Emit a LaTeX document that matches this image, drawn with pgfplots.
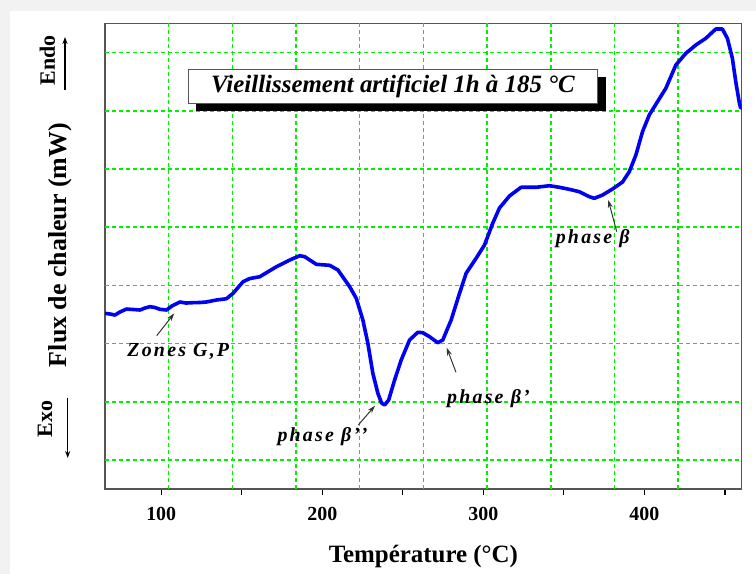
\documentclass[border=0pt]{standalone}
\usepackage{fontspec}
\setmainfont{Liberation Serif}
\usepackage{pgfplots}
\pgfplotsset{compat=1.18}
\usetikzlibrary{arrows.meta}
\definecolor{gridgreen}{RGB}{0,240,0}
\definecolor{curveblue}{RGB}{0,0,245}
\definecolor{framegray}{RGB}{85,85,85}
\begin{document}
\begin{tikzpicture}[x=1bp,y=1bp]
\fill[black!5] (0,0) rectangle (756,574);
\fill[white] (10,0) rectangle (756,563);
\useasboundingbox (0,0) rectangle (756,574);
\begin{axis}[
  at={(105bp,85bp)}, anchor=south west,
  scale only axis, width=636.7bp, height=465.5bp,
  xmin=65.1, xmax=460.4, ymin=0, ymax=8,
  axis line style={draw=framegray, line width=1.4bp},
  xtick={100,200,300,400},
  minor xtick={150,250,350,450},
  xtick pos=bottom, tick align=outside,
  major tick length=6bp, minor tick length=6bp,
  every tick/.style={black, line width=1.2bp},
  ytick=\empty,
  /pgf/number format/assume math mode=true,
  xticklabel style={font=\bfseries\fontsize{20}{24}\selectfont, yshift=-9bp},
  xlabel={Température (°C)},
  xlabel style={at={(axis description cs:0.5,0)}, anchor=center, yshift=-67bp, font=\bfseries\fontsize{25}{29}\selectfont},
  ylabel={Flux de chaleur (mW)},
  ylabel style={at={(axis description cs:-0.0707,0.524)}, anchor=center, font=\bfseries\fontsize{26}{30}\selectfont},
]
% grid (10 x 8 divisions, offset from the ticks)
\pgfplotsinvokeforeach{104.63,144.16,183.69,223.22,262.75,302.28,341.81,381.34,420.87}{
  \draw[gridgreen, line width=1.6bp, dash pattern=on 4bp off 3bp] (axis cs:#1,0) -- (axis cs:#1,8);
}
\pgfplotsinvokeforeach{0.5,1.5,2.5,3.5,4.5,5.5,6.5,7.5}{
  \draw[gridgreen, line width=1.6bp, dash pattern=on 4bp off 3bp] (axis cs:65.1,#1) -- (axis cs:460.4,#1);
}
\addplot[curveblue, line width=3.6bp, line join=round, line cap=round] coordinates {
(65.1,3.019) (68.2,3.007) (71.3,2.990) (74.4,3.042) (78.5,3.093) (82.5,3.085)
(86.8,3.076) (89.9,3.110) (93.0,3.133) (96.1,3.119) (99.2,3.088) (103.3,3.076)
(106.6,3.145) (111.6,3.214) (115.3,3.196) (119.8,3.202) (124.0,3.205) (128.1,3.214)
(134.3,3.248) (140.5,3.270) (144.6,3.363) (150.8,3.562) (155.0,3.617) (161.2,3.648)
(171.5,3.820) (179.8,3.935) (186.0,4.009) (189.1,3.992) (196.3,3.861) (204.6,3.844)
(209.7,3.764) (217.0,3.477) (221.1,3.277) (225.2,2.904) (228.3,2.504) (231.4,1.988)
(234.5,1.645) (236.8,1.478) (238.7,1.444) (241.2,1.529) (244.9,1.873) (249.0,2.217)
(254.2,2.561) (259.3,2.693) (262.4,2.686) (266.6,2.617) (271.7,2.514) (274.8,2.561)
(280.0,2.904) (285.2,3.363) (289.3,3.707) (295.5,3.965) (300.7,4.193) (305.8,4.566)
(310.0,4.829) (316.2,5.035) (323.4,5.185) (332.7,5.185) (341.0,5.212) (347.2,5.185)
(353.4,5.150) (359.6,5.109) (365.8,5.023) (368.9,4.996) (374.0,5.052) (380.2,5.156)
(386.4,5.276) (390.6,5.453) (394.7,5.740) (398.8,6.140) (403.0,6.427) (408.1,6.656)
(413.3,6.886) (419.5,7.286) (425.7,7.487) (431.9,7.630) (438.1,7.745) (444.3,7.905)
(448.4,7.905) (451.5,7.745) (454.6,7.402) (456.7,7.000) (458.8,6.656) (459.7,6.548)
};
\end{axis}
% title box
\fill[black] (196,462.7) rectangle (606,496.7);
\draw[framegray, line width=1.4bp, fill=white] (188.3,470.7) rectangle (597.7,504.7);
\node[font=\bfseries\itshape\fontsize{25}{29}\selectfont] at (393,487.7) {Vieillissement artificiel 1h à 185 °C};
% Endo / Exo
\node[rotate=90, font=\bfseries\fontsize{22}{26}\selectfont] at (47.5,513.5) {Endo};
\draw[black, line width=1.2bp, -{Stealth[length=7bp,width=5bp]}] (65,484) -- (65,537);
\node[rotate=90, font=\bfseries\fontsize{22}{26}\selectfont] at (45,155) {Exo};
\draw[black, line width=1.2bp, -{Stealth[length=7bp,width=5bp]}] (67.7,176) -- (67.7,116);
% annotations
\begin{scope}[every node/.style={font=\bfseries\itshape\fontsize{20}{24}\selectfont\addfontfeature{LetterSpace=11}}]
\node at (178.3,222.3) {Zones G,P};
\draw[black!80, line width=1bp, -{Stealth[length=8bp,width=5bp]}] (156.7,238.3) -- (174.3,260.7);
\node at (322.5,137.3) {phase β'{}'};
\draw[black!80, line width=1bp, -{Stealth[length=8bp,width=5bp]}] (358.3,149) -- (375,168.3);
\node at (488.5,175.7) {phase β'};
\draw[black!80, line width=1bp, -{Stealth[length=8bp,width=5bp]}] (456,201.7) -- (446.7,226.3);
\node at (592.7,335.7) {phase β};
\draw[black!80, line width=1bp, -{Stealth[length=8bp,width=5bp]}] (616.7,342.3) -- (608.3,374);
\end{scope}
\end{tikzpicture}
\end{document}
